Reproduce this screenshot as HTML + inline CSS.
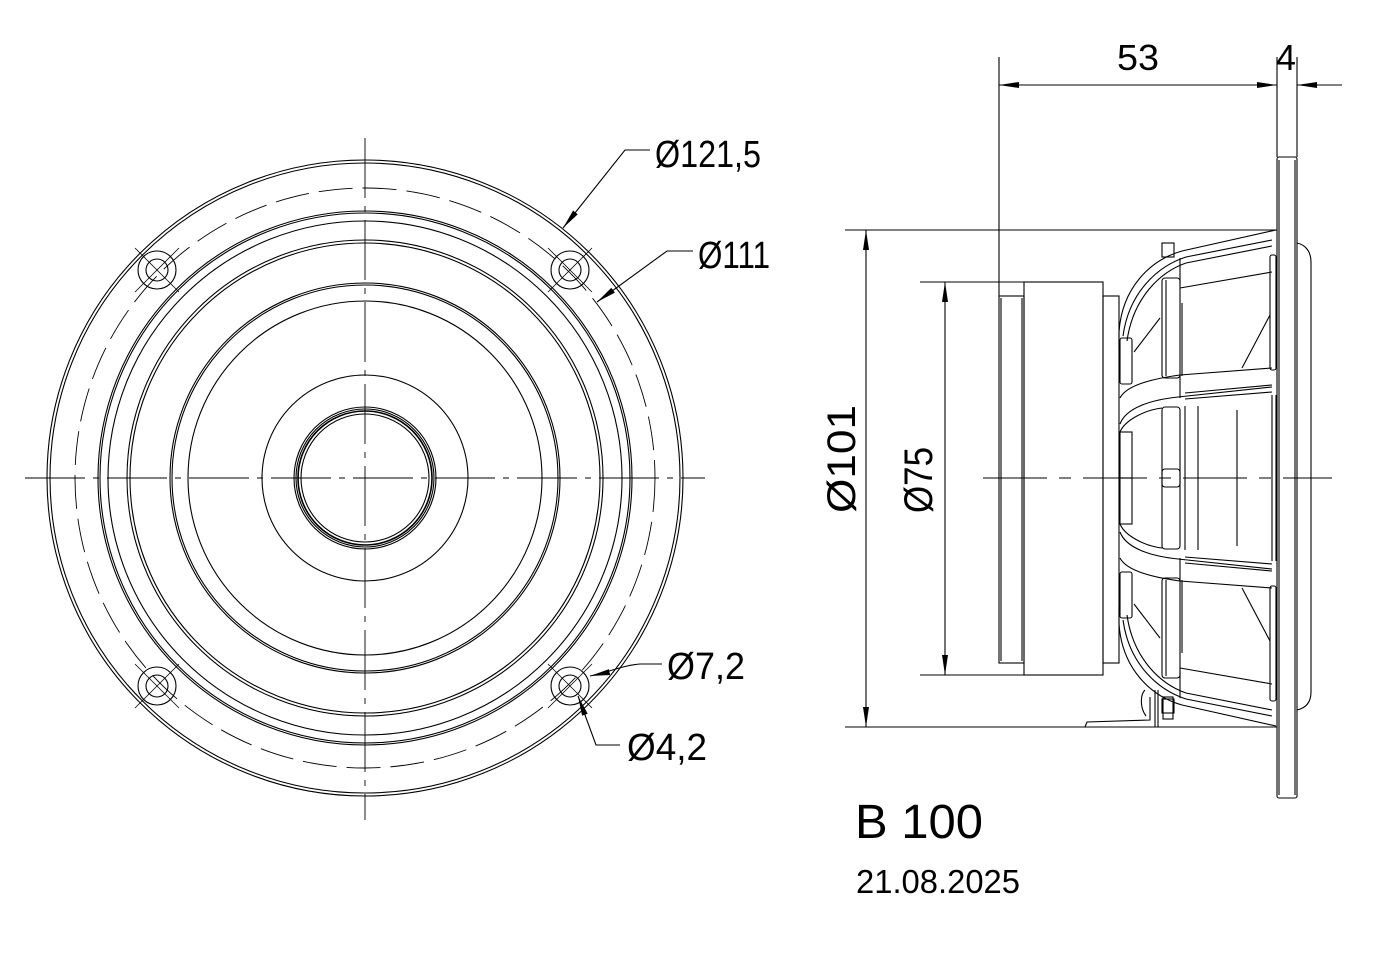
<!DOCTYPE html>
<html><head><meta charset="utf-8"><style>
html,body{margin:0;padding:0;background:#fff;}
svg{display:block;}
text{font-family:"Liberation Sans Narrow","Liberation Sans",sans-serif;fill:#000;}
</style></head><body>
<svg width="1385" height="954" viewBox="0 0 1385 954" xmlns="http://www.w3.org/2000/svg">
<defs>
<marker id="ar" viewBox="0 0 20 8" refX="20" refY="4" markerWidth="20" markerHeight="8" markerUnits="userSpaceOnUse" orient="auto"><path d="M0,1 L20,4 L0,7 Z" fill="#000"/></marker>
</defs>
<g fill="none" stroke="#000" stroke-width="1.1">
<!-- FRONT VIEW -->
<g transform="translate(365,478)">
<circle r="318"/><circle r="315"/>
<circle r="290" stroke-dasharray="34,10" stroke-width="0.9"/>
<circle r="267"/><circle r="265"/><circle r="257"/>
<circle r="238"/><circle r="235"/>
<circle r="195"/><circle r="193"/>
<circle r="177"/>
<circle r="103"/>
<circle r="71"/><circle r="69"/><circle r="67" stroke-width="1.6"/><circle r="64"/>
</g>
<line x1="25" y1="478" x2="705" y2="478" stroke-dasharray="60,8,6,8" stroke-width="0.9"/>
<line x1="365" y1="138" x2="365" y2="820" stroke-dasharray="60,8,6,8" stroke-width="0.9"/>
<g>
<circle cx="157" cy="270" r="19"/><circle cx="157" cy="270" r="11"/>
<circle cx="570" cy="270" r="19"/><circle cx="570" cy="270" r="11"/>
<circle cx="157" cy="686" r="19"/><circle cx="157" cy="686" r="11"/>
<circle cx="570" cy="686" r="19"/><circle cx="570" cy="686" r="11"/>
<line x1="135" y1="248" x2="179" y2="292" stroke-width="0.8"/><line x1="135" y1="292" x2="179" y2="248" stroke-width="0.8"/>
<line x1="548" y1="248" x2="592" y2="292" stroke-width="0.8"/><line x1="548" y1="292" x2="592" y2="248" stroke-width="0.8"/>
<line x1="135" y1="664" x2="179" y2="708" stroke-width="0.8"/><line x1="135" y1="708" x2="179" y2="664" stroke-width="0.8"/>
<line x1="548" y1="664" x2="592" y2="708" stroke-width="0.8"/><line x1="548" y1="708" x2="592" y2="664" stroke-width="0.8"/>
</g>
<polyline points="650,150 625,150 563,228" marker-end="url(#ar)"/>
<polyline points="693,251 667,251 597,302" marker-end="url(#ar)"/>
<path d="M662,664 L640,664 C620,666 610,672 590,676" marker-end="url(#ar)"/>
<polyline points="620,745 596,745 578,696" marker-end="url(#ar)"/>

<!-- SIDE VIEW -->
<line x1="999" y1="57" x2="999" y2="296"/>
<line x1="1277" y1="57" x2="1277" y2="157"/>
<line x1="1297" y1="57" x2="1297" y2="157"/>
<line x1="1019" y1="85" x2="1257" y2="85"/>
<line x1="1019" y1="85" x2="999" y2="85" marker-end="url(#ar)"/>
<line x1="1257" y1="85" x2="1277" y2="85" marker-end="url(#ar)"/>
<line x1="1342" y1="85" x2="1297" y2="85" marker-end="url(#ar)"/>
<line x1="845" y1="230" x2="1277" y2="230"/>
<line x1="845" y1="727" x2="1277" y2="727"/>
<line x1="866" y1="250" x2="866" y2="707"/>
<line x1="866" y1="250" x2="866" y2="230" marker-end="url(#ar)"/>
<line x1="866" y1="707" x2="866" y2="727" marker-end="url(#ar)"/>
<line x1="920" y1="282" x2="1103" y2="282"/>
<line x1="920" y1="675" x2="1103" y2="675"/>
<line x1="945" y1="302" x2="945" y2="655"/>
<line x1="945" y1="302" x2="945" y2="282" marker-end="url(#ar)"/>
<line x1="945" y1="655" x2="945" y2="675" marker-end="url(#ar)"/>
<line x1="983" y1="478" x2="1332" y2="478" stroke-dasharray="64,12,12,12" stroke-width="0.9"/>
<rect x="1277" y="157" width="20" height="641" rx="2"/>
<line x1="1279" y1="160" x2="1279" y2="795"/><line x1="1295" y1="160" x2="1295" y2="795"/>
<path d="M1297,243 C1306,245 1311,252 1311,262 L1311,692 C1311,702 1306,708 1297,710"/>
<rect x="1024" y="282" width="79" height="393"/>
<rect x="999" y="296" width="25" height="367"/>
<line x1="1001" y1="298" x2="1001" y2="661"/><line x1="1022" y1="298" x2="1022" y2="661"/>
<rect x="1103" y="296" width="16" height="367"/>
<g id="bh">
<path d="M1276,230 L1182,251 C1150,260 1122,288 1119,332 L1119,350"/>
<path d="M1272,240 L1186,257 C1158,266 1129,292 1123,336"/>
<path d="M1272,246 L1186,263 C1160,272 1133,298 1127,341"/>
<rect x="1162" y="243" width="12" height="14"/>
<rect x="1162" y="278" width="18" height="100" rx="3"/>
<line x1="1166" y1="280" x2="1166" y2="376"/>
<line x1="1180" y1="288" x2="1272" y2="272"/>
<line x1="1180" y1="258" x2="1180" y2="285"/>
<rect x="1270" y="255" width="6" height="115" rx="2"/>
<rect x="1120" y="338" width="12" height="46" rx="2"/>
<line x1="1134" y1="352" x2="1160" y2="318"/>
<line x1="1242" y1="368" x2="1270" y2="315"/>
<line x1="1182" y1="303" x2="1182" y2="376"/>
<path d="M1120,398 C1126,386 1150,379 1180,375 L1272,368"/>
<path d="M1120,424 C1126,408 1150,400 1178,397 L1272,387"/>
<line x1="1185" y1="393" x2="1272" y2="385"/>
<line x1="1185" y1="399" x2="1272" y2="392"/>
<line x1="1180" y1="375" x2="1180" y2="398"/>
<path d="M1120,432 C1125,420 1145,410 1162,408"/>
<rect x="1162" y="407" width="18" height="80" rx="3"/>
<line x1="1185" y1="406" x2="1185" y2="478"/>
<line x1="1198" y1="406" x2="1198" y2="478"/>
<line x1="1237" y1="410" x2="1237" y2="478"/>
<rect x="1120" y="432" width="12" height="46"/>
<line x1="1272" y1="395" x2="1272" y2="478"/>
<line x1="1276" y1="395" x2="1276" y2="478"/>
</g>
<use href="#bh" transform="translate(0,956) scale(1,-1)"/>
<path d="M1085,727 L1087,722 L1150,720 L1150,697 M1155,727 L1155,690 M1158,727 L1158,690"/>
<rect x="1163" y="697" width="10" height="22"/>
<path d="M1145,690 C1140,695 1140,708 1146,716"/>
</g>

<text x="655" y="167" font-size="38" textLength="106" lengthAdjust="spacingAndGlyphs">Ø121,5</text>
<text x="698" y="268" font-size="38" textLength="72" lengthAdjust="spacingAndGlyphs">Ø111</text>
<text x="667" y="679" font-size="38" textLength="78" lengthAdjust="spacingAndGlyphs">Ø7,2</text>
<text x="627" y="760" font-size="38" textLength="80" lengthAdjust="spacingAndGlyphs">Ø4,2</text>
<text x="1117" y="70" font-size="36" textLength="42" lengthAdjust="spacingAndGlyphs">53</text>
<text x="1276" y="70" font-size="36" textLength="20" lengthAdjust="spacingAndGlyphs">4</text>
<text transform="translate(855,513) rotate(-90)" font-size="40" textLength="108" lengthAdjust="spacingAndGlyphs">Ø101</text>
<text transform="translate(932,513) rotate(-90)" font-size="40" textLength="66" lengthAdjust="spacingAndGlyphs">Ø75</text>
<text x="855" y="838" font-size="48" textLength="128" lengthAdjust="spacingAndGlyphs">B 100</text>
<text x="856" y="893" font-size="33" textLength="164" lengthAdjust="spacingAndGlyphs">21.08.2025</text>
</svg>
</body></html>
